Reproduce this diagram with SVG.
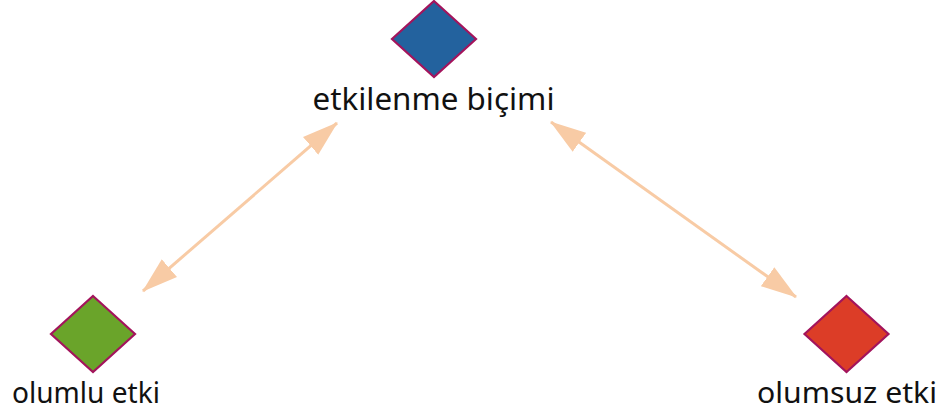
<svg xmlns="http://www.w3.org/2000/svg" width="946" height="414" viewBox="0 0 946 414">
<defs>
<style>
.d{stroke:#A3145C;stroke-width:2.2;stroke-linejoin:miter}
.t{font-family:"Noto Sans","Open Sans",sans-serif;font-size:28.5px;fill:#111;text-anchor:middle}
.c{stroke:#F8CBA5;stroke-width:3;fill:none}
</style>
<marker id="ah" markerUnits="userSpaceOnUse" markerWidth="36" markerHeight="24" viewBox="0 0 34 22" refX="33" refY="11" orient="auto-start-reverse">
<path d="M0,0 L34,11 L0,22 Z" fill="#F8CBA5"/>
</marker>
</defs>
<rect width="946" height="414" fill="#fff"/>
<g id="connectors">
<line class="c" x1="143" y1="291" x2="337" y2="123" marker-start="url(#ah)" marker-end="url(#ah)"/>
<line class="c" x1="551" y1="122" x2="796" y2="297" marker-start="url(#ah)" marker-end="url(#ah)"/>
</g>
<g id="node-top">
<polygon class="d" points="434,1 476,39 434,77 392,39" fill="#23629E"/>
<text class="t" x="433.5" y="110" style="font-size:30px" textLength="242" lengthAdjust="spacingAndGlyphs">etkilenme biçimi</text>
</g>
<g id="node-left">
<polygon class="d" points="93,296 135,334 93,372 51,334" fill="#6AA42A"/>
<text class="t" x="86" y="403" textLength="148" lengthAdjust="spacingAndGlyphs">olumlu etki</text>
</g>
<g id="node-right">
<polygon class="d" points="846.5,296 888.5,334 846.5,372 804.5,334" fill="#DC3D27"/>
<text class="t" x="847" y="403" textLength="180" lengthAdjust="spacingAndGlyphs">olumsuz etki</text>
</g>
</svg>
